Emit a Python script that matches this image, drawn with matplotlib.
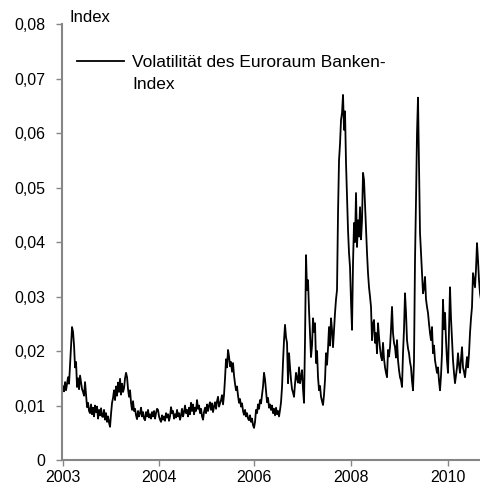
import numpy as np
import matplotlib
matplotlib.use("Agg")
from matplotlib import pyplot as plt
from matplotlib.ticker import FuncFormatter

plt.rcParams['font.family'] = ['Liberation Sans', 'DejaVu Sans']

# Volatility of the euro area bank index, in thousandths (one value per plotted step)
vol_milli = [
    13.5, 12.6, 14.3, 12.8, 14.0, 15.2, 14.0, 17.5,
    21.0, 24.4, 23.5, 21.0, 17.0, 18.0, 13.4, 15.0, 13.0, 15.5,
    14.3, 13.0, 12.5, 11.8, 14.3, 12.0, 9.7, 10.5, 9.0, 8.6,
    10.2, 8.4, 9.6, 8.0, 10.0, 8.8, 9.8, 7.6, 9.2, 8.2,
    9.5, 8.0, 7.9, 9.2, 7.4, 8.6, 7.0, 8.0, 6.8, 6.1,
    8.5, 10.5, 11.4, 12.8, 11.0, 13.5, 11.8, 14.2, 12.5, 14.9,
    12.0, 14.0, 12.5, 13.2, 15.0, 16.0, 15.2, 13.0, 11.6, 12.8,
    10.5, 9.2, 10.8, 9.0, 9.4, 8.2, 7.5, 9.0, 8.0, 8.6,
    9.6, 8.0, 8.8, 7.6, 7.3, 8.8, 8.0, 9.2, 7.8, 8.4,
    7.6, 8.8, 8.0, 9.0, 7.6, 8.6, 9.4, 9.2, 8.0, 7.4,
    7.0, 8.2, 7.4, 8.0, 7.2, 8.6, 7.8, 8.4, 7.2, 8.0,
    9.7, 8.6, 9.0, 7.6, 8.4, 7.8, 9.2, 8.0, 8.6, 7.4,
    8.2, 9.4, 8.0, 8.8, 10.0, 8.6, 9.2, 8.0, 9.6, 8.4,
    10.5, 9.0, 10.2, 8.4, 9.6, 9.0, 11.0, 9.4, 10.0, 8.6,
    9.4, 8.0, 7.4, 8.8, 9.6, 8.6, 10.2, 9.0, 10.0, 10.6,
    9.2, 10.4, 8.8, 9.8, 10.6, 9.4, 10.8, 11.6, 9.8, 10.4,
    11.0, 11.9, 10.2, 12.0, 15.0, 18.5, 17.0, 20.2, 19.0, 17.2,
    18.0, 16.2, 17.8, 15.5, 14.0, 12.8, 13.5, 11.8, 10.5, 11.2,
    9.8, 10.4, 9.0, 8.3, 9.2, 8.0, 8.6, 7.6, 7.3, 8.2,
    7.0, 7.6, 6.4, 5.9, 7.0, 9.2, 8.6, 10.2, 9.4, 11.0,
    10.4, 12.0, 13.5, 16.0, 14.8, 12.6, 10.6, 11.4, 9.6, 10.2,
    9.2, 10.0, 8.6, 9.4, 8.2, 9.6, 8.4, 9.0, 8.0, 9.2,
    10.6, 13.4, 18.0, 22.0, 24.8, 22.5, 21.5, 14.1, 19.6, 17.0,
    14.7, 13.0, 12.4, 11.6, 14.0, 16.0, 15.0, 14.2, 17.0, 14.1,
    15.2, 16.5, 13.0, 10.5, 22.0, 37.6, 31.2, 33.0, 27.5, 23.0,
    18.9, 21.0, 26.0, 23.5, 25.1, 17.8, 20.0, 15.2, 12.8, 13.6,
    11.6, 10.8, 10.1, 12.0, 14.7, 19.6, 17.5, 20.5, 24.4, 21.0,
    26.0, 23.9, 20.7, 24.0, 27.0, 29.5, 31.2, 45.3, 55.0, 58.0,
    62.4, 63.7, 67.0, 60.6, 64.0, 54.5, 48.3, 42.2, 38.0, 35.4,
    29.0, 23.9, 36.1, 43.5, 40.0, 49.0, 39.1, 44.0, 41.0, 46.4,
    40.5, 44.0, 52.7, 51.4, 47.0, 42.2, 38.0, 34.3, 31.7, 30.0,
    28.1, 22.0, 25.0, 25.7, 21.5, 23.3, 19.6, 25.1, 22.6, 20.5,
    19.0, 18.3, 21.5, 18.6, 17.0, 16.0, 15.2, 20.2, 19.0, 20.7,
    24.0, 28.1, 23.3, 21.5, 20.7, 18.8, 22.0, 18.3, 16.5, 15.2,
    14.6, 13.4, 19.6, 24.0, 30.6, 27.0, 22.0, 20.5, 19.6, 18.0,
    17.0, 14.5, 12.8, 18.3, 36.7, 47.7, 60.0, 66.5, 53.8, 41.7,
    38.0, 34.3, 30.6, 31.5, 33.6, 29.5, 28.1, 27.0, 25.0, 23.3,
    22.0, 24.4, 19.6, 21.0, 18.3, 17.2, 16.0, 17.0, 14.5, 12.8,
    15.5, 19.6, 29.4, 24.0, 27.0, 22.0, 18.3, 16.0, 24.0, 31.7,
    26.0, 22.0, 18.3, 16.0, 14.1, 15.5, 17.0, 19.6, 17.5, 16.0,
    18.5, 20.7, 17.0, 16.2, 15.2, 17.0, 18.9, 17.0, 19.5, 23.3,
    26.0, 28.1, 34.3, 33.0, 31.7, 35.0, 39.8, 36.7, 33.0, 30.6, 29.4,
]

# category-axis labels and the steps they sit on
year_labels = ['2003', '2004', '2006', '2008', '2010']
year_steps = [0, 96, 191, 288, 385]

vol = np.array(vol_milli) / 1000
steps = np.arange(len(vol))

fig = plt.figure(figsize=(4.81, 4.92), dpi=100)
ax = fig.add_axes([0.129, 0.065, 0.871, 0.886])

ax.plot(steps, vol, color='black', linewidth=1.3, label='Volatilität des Euroraum Banken-')

ax.set_xlim(-1, len(vol) - 1)
ax.set_ylim(0, 0.08)
ax.set_yticks(np.arange(0, 0.081, 0.01))
ax.yaxis.set_major_formatter(FuncFormatter(lambda v, p: '0' if abs(v) < 1e-9 else f'{v:.2f}'.replace('.', ',')))
ax.set_xticks(year_steps)
ax.set_xticklabels(year_labels)

for side in ['top', 'right']:
    ax.spines[side].set_visible(False)
for side in ['left', 'bottom']:
    ax.spines[side].set_color('#868686')
    ax.spines[side].set_linewidth(1.5)
ax.tick_params(axis='both', colors='#868686', labelcolor='black', labelsize=11.5, width=1.0, length=4)
ax.tick_params(axis='y', pad=8)
ax.tick_params(axis='x', pad=3)

ax.text(0.018, 1.016, 'Index', transform=ax.transAxes, fontsize=12, ha='left', va='center')

# legend: line plus first text line, second line of the label underneath
ax.legend(loc='center left', bbox_to_anchor=(0.036, 0.911), frameon=False, fontsize=12.5,
          handlelength=2.7, handletextpad=0.45, borderaxespad=0, borderpad=0)
ax.text(0.167, 0.862, 'Index', transform=ax.transAxes, fontsize=12.5, ha='left', va='center')

plt.savefig('out.png', dpi=100)
